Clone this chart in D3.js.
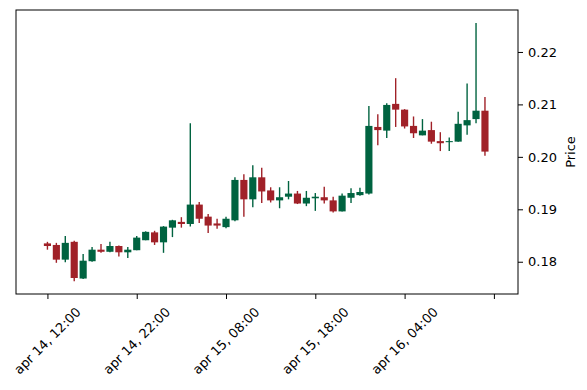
<!DOCTYPE html>
<html>
<head>
<meta charset="utf-8">
<script src="https://cdn.jsdelivr.net/npm/d3@7"></script>
<style>
  body { margin: 0; background: #fff; }
  svg { display: block; font-family: "DejaVu Sans", sans-serif; }
</style>
</head>
<body>
<div class="plot"></div>
<script>
// hourly candles, apr 14 12:00 -> apr 16 13:00
var opens  = [0.1835,0.1832,0.1804,0.1838,0.1768,0.1801,0.1823,0.1819,0.1830,0.1818,
              0.1822,0.1841,0.1856,0.1837,0.1865,0.1876,0.1872,0.1909,0.1886,0.1873,
              0.1866,0.1879,0.1956,0.1919,0.1961,0.1936,0.1917,0.1924,0.1930,0.1911,
              0.1921,0.1923,0.1917,0.1896,0.1922,0.1927,0.1930,0.2057,0.2050,0.2101,
              0.2090,0.2059,0.2041,0.2051,0.2030,0.2028,0.2029,0.2060,0.2072,0.2088];
var highs  = [0.1838,0.1836,0.1849,0.1840,0.1815,0.1828,0.1834,0.1838,0.1831,0.1828,
              0.1849,0.1858,0.1859,0.1868,0.1880,0.1885,0.2064,0.1914,0.1891,0.1882,
              0.1886,0.1961,0.1967,0.1984,0.1979,0.1942,0.1942,0.1954,0.1935,0.1935,
              0.1931,0.1943,0.1924,0.1930,0.1940,0.1941,0.2097,0.2081,0.2102,0.2150,
              0.2091,0.2077,0.2072,0.2067,0.2047,0.2037,0.2086,0.2140,0.2255,0.2114];
var lows   = [0.1823,0.1798,0.1799,0.1763,0.1767,0.1800,0.1817,0.1818,0.1810,0.1807,
              0.1822,0.1841,0.1832,0.1817,0.1847,0.1865,0.1867,0.1874,0.1855,0.1863,
              0.1864,0.1877,0.1886,0.1904,0.1912,0.1913,0.1902,0.1919,0.1910,0.1906,
              0.1897,0.1911,0.1894,0.1896,0.1912,0.1926,0.1928,0.2022,0.2036,0.2057,
              0.2054,0.2036,0.2041,0.2025,0.2011,0.2011,0.2029,0.2042,0.2064,0.2002];
var closes = [0.1830,0.1804,0.1836,0.1769,0.1802,0.1823,0.1819,0.1830,0.1818,0.1823,
              0.1846,0.1857,0.1837,0.1867,0.1879,0.1872,0.1909,0.1882,0.1869,0.1869,
              0.1882,0.1956,0.1919,0.1961,0.1934,0.1917,0.1923,0.1930,0.1911,0.1922,
              0.1924,0.1917,0.1896,0.1926,0.1931,0.1933,0.2059,0.2051,0.2099,0.2090,
              0.2058,0.2045,0.2050,0.2029,0.2026,0.2030,0.2063,0.2070,0.2088,0.2010];

var xTickIndex  = [0, 10, 20, 30, 40, 50];
var xTickLabels = ["apr 14, 12:00", "apr 14, 22:00", "apr 15, 08:00", "apr 15, 18:00", "apr 16, 04:00", ""];
var yTicks = [0.18, 0.19, 0.20, 0.21, 0.22];

var upColor = "#006340", downColor = "#A02128";

var W = 587, H = 390,
    m = {t: 10, r: 69, b: 96, l: 16},
    w = W - m.l - m.r,
    h = H - m.t - m.b,
    fs = 13;

var svg = d3.select(".plot").append("svg")
    .attr("width", W).attr("height", H);

var g = svg.append("g").attr("transform", "translate(" + m.l + "," + m.t + ")");

var x = d3.scaleLinear().domain([-3.52, 52.7]).range([0, w]);
var y = d3.scaleLinear().domain([0.17385, 0.228]).range([h, 0]);

var candles = opens.map(function(o, i){
    return {i: i, o: o, h: highs[i], l: lows[i], c: closes[i]};
});

var bodyW = (x(1) - x(0)) * 0.8;

var c = g.selectAll(".candle").data(candles).enter().append("g")
    .attr("class", "candle");

c.append("line")
    .attr("x1", function(d){ return x(d.i); })
    .attr("x2", function(d){ return x(d.i); })
    .attr("y1", function(d){ return y(d.h); })
    .attr("y2", function(d){ return y(d.l); })
    .attr("stroke", function(d){ return d.c >= d.o ? upColor : downColor; })
    .attr("stroke-width", 1.4);

c.append("rect")
    .attr("x", function(d){ return x(d.i) - bodyW/2; })
    .attr("width", bodyW)
    .attr("y", function(d){ return y(Math.max(d.o, d.c)); })
    .attr("height", function(d){ return Math.max(1, Math.abs(y(d.o) - y(d.c))); })
    .attr("fill", function(d){ return d.c >= d.o ? upColor : downColor; });

// frame
g.append("rect")
    .attr("width", w).attr("height", h)
    .attr("fill", "none").attr("stroke", "#000").attr("stroke-width", 1);

// right axis
var yAxis = g.append("g")
    .attr("transform", "translate(" + w + ",0)")
    .call(d3.axisRight(y).tickValues(yTicks).tickFormat(d3.format(".2f")).tickSize(5).tickPadding(5));
yAxis.select(".domain").remove();
yAxis.selectAll("text").attr("font-size", fs).attr("fill", "#000")
    .attr("font-family", "DejaVu Sans");

// bottom axis
var xAxis = g.append("g")
    .attr("transform", "translate(0," + h + ")")
    .call(d3.axisBottom(x).tickValues(xTickIndex).tickFormat("").tickSize(5));
xAxis.select(".domain").remove();

xTickIndex.forEach(function(t, k){
    var label = xTickLabels[k];
    if (!label) return;
    var txt = g.append("text")
        .attr("font-size", fs)
        .attr("font-family", "DejaVu Sans")
        .attr("text-anchor", "middle")
        .attr("dominant-baseline", "central")
        .text(label);
    var len = txt.node().getComputedTextLength();
    var half = (len + fs) / (2 * Math.SQRT2);
    txt.attr("transform", "translate(" + x(t) + "," + (h + 11 + half) + ") rotate(-45)");
});

svg.append("text")
    .attr("font-size", fs)
    .attr("font-family", "DejaVu Sans")
    .attr("text-anchor", "middle")
    .attr("transform", "translate(575," + (m.t + h/2) + ") rotate(-90)")
    .text("Price");
</script>
</body>
</html>
